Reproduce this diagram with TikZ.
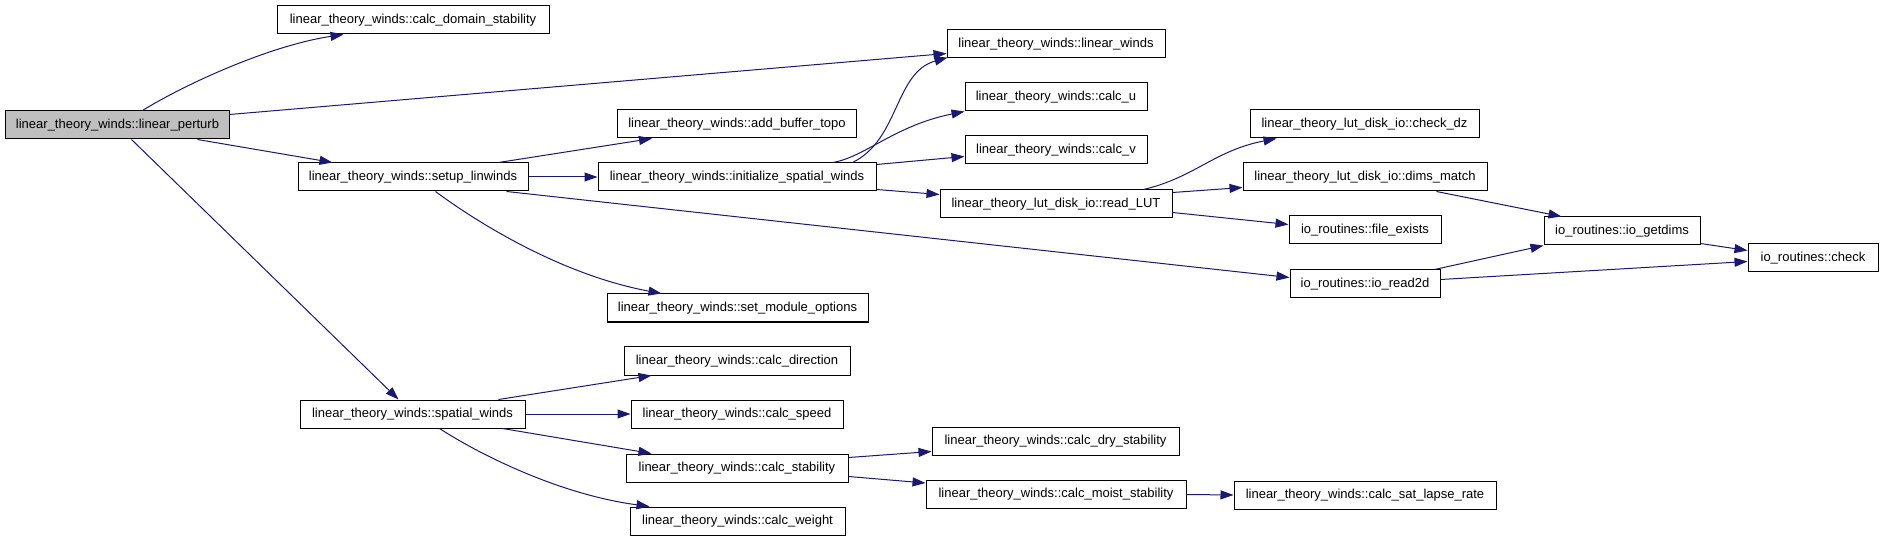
\documentclass[tikz,border=0pt]{standalone}
\usepackage{fontspec}
\setmainfont{Liberation Sans}
\usetikzlibrary{arrows.meta,calc}
\definecolor{edgeblue}{HTML}{191970}
\definecolor{rootfill}{HTML}{BFBFBF}
\begin{document}
\begin{tikzpicture}[x=1bp,y=-1bp,
  box/.style={draw=black,fill=white,line width=1bp,inner sep=0pt,minimum height=28bp,
    font=\fontsize{13bp}{15bp}\selectfont,anchor=center},
  rootbox/.style={box,fill=rootfill},
  edge/.style={draw=edgeblue,line width=1bp,-{Triangle[length=13bp,width=9bp]}}]
\useasboundingbox (0,0) rectangle (1883,541);
% nodes
\node[rootbox,minimum width=223bp] (lp) at (117.5,125) {linear\_theory\_winds::linear\_perturb};
\node[box,minimum width=272bp] (cds) at (413,20) {linear\_theory\_winds::calc\_domain\_stability};
\node[box,minimum width=218bp] (lw) at (1056,44) {linear\_theory\_winds::linear\_winds};
\node[box,minimum width=239bp] (abt) at (737,124) {linear\_theory\_winds::add\_buffer\_topo};
\node[box,minimum width=230bp] (sl) at (413,177) {linear\_theory\_winds::setup\_linwinds};
\node[box,minimum width=278bp] (isw) at (737,177) {linear\_theory\_winds::initialize\_spatial\_winds};
\node[box,minimum width=182bp] (cu) at (1056,97) {linear\_theory\_winds::calc\_u};
\node[box,minimum width=182bp] (cv) at (1056,150) {linear\_theory\_winds::calc\_v};
\node[box,minimum width=229bp] (cdz) at (1364.5,124) {linear\_theory\_lut\_disk\_io::check\_dz};
\node[box,minimum width=244bp] (dm) at (1365,177) {linear\_theory\_lut\_disk\_io::dims\_match};
\node[box,minimum width=232bp] (rl) at (1056,204) {linear\_theory\_lut\_disk\_io::read\_LUT};
\node[box,minimum width=152bp] (fe) at (1365,230) {io\_routines::file\_exists};
\node[box,minimum width=156bp] (gd) at (1622,231) {io\_routines::io\_getdims};
\node[box,minimum width=130bp] (ck) at (1813,258) {io\_routines::check};
\node[box,minimum width=150bp] (rd) at (1365,284) {io\_routines::io\_read2d};
\node[box,minimum width=261bp] (smo) at (737.5,308) {linear\_theory\_winds::set\_module\_options};
\node[box,minimum width=225bp] (sw) at (412.5,414) {linear\_theory\_winds::spatial\_winds};
\node[box,minimum width=226bp] (cdir) at (737,361) {linear\_theory\_winds::calc\_direction};
\node[box,minimum width=212bp] (cs) at (737,414) {linear\_theory\_winds::calc\_speed};
\node[box,minimum width=222bp] (cst) at (737,468) {linear\_theory\_winds::calc\_stability};
\node[box,minimum width=215bp] (cwt) at (737.5,521) {linear\_theory\_winds::calc\_weight};
\node[box,minimum width=247bp] (cdry) at (1055.5,441) {linear\_theory\_winds::calc\_dry\_stability};
\node[box,minimum width=260bp] (cmst) at (1056,494.5) {linear\_theory\_winds::calc\_moist\_stability};
\node[box,minimum width=262bp] (csl) at (1365,495) {linear\_theory\_winds::calc\_sat\_lapse\_rate};
% edges
\draw[edge] ($(lp.north west)+(137,0)$) .. controls ($(lp.north west)+(179,-26)$) and ($(cds.south west)+(-7,11)$) .. ($(cds.south west)+(67,0)$);
\draw[edge] ($(lp.north east)+(0,4)$) -- ($(lw.south west)+(0,-5)$);
\draw[edge] ($(lp.south west)+(192,0)$) -- ($(sl.north west)+(35,0)$);
\draw[edge] ($(lp.south west)+(126,0)$) -- ($(sw.north west)+(99,0)$);
\draw[edge] ($(sl.north west)+(201,0)$) -- ($(abt.south west)+(35,0)$);
\draw[edge] (sl.east) -- (isw.west);
\draw[edge] ($(sl.south west)+(138,0)$) .. controls ($(sl.south west)+(177,29)$) and ($(smo.north west)+(-47,-19)$) .. ($(smo.north west)+(55,0)$);
\draw[edge] ($(sl.south west)+(209,0)$) -- ($(rd.north west)+(0,8)$);
\draw[edge] ($(isw.north west)+(255,0)$) .. controls ($(isw.north west)+(302,-23)$) and ($(lw.south west)+(-52,14)$) .. ($(lw.south west)+(1,-1)$);
\draw[edge] ($(isw.north west)+(235,0)$) .. controls ($(isw.north west)+(267,-5)$) and ($(cu.south west)+(-70,14)$) .. ($(cu.south west)+(0,0)$);
\draw[edge] ($(isw.north east)+(0,2)$) -- ($(cv.north west)+(0,21)$);
\draw[edge] ($(isw.south east)+(0,-2)$) -- ($(rl.north west)+(0,5)$);
\draw[edge] ($(rl.north west)+(204,0)$) .. controls ($(rl.north west)+(255,-12)$) and ($(cdz.south west)+(-35,12)$) .. ($(cdz.south west)+(27,0)$);
\draw[edge] ($(rl.north east)+(0,3)$) -- ($(dm.north west)+(0,25)$);
\draw[edge] ($(rl.north east)+(0,23)$) -- ($(fe.north west)+(0,9)$);
\draw[edge] ($(dm.south west)+(194,0)$) -- ($(gd.north west)+(18,0)$);
\draw[edge] ($(rd.north west)+(145,0)$) -- (gd.south west);
\draw[edge] ($(rd.north east)+(0,10)$) -- ($(ck.north west)+(0,18)$);
\draw[edge] ($(gd.south east)+(0,-2)$) -- ($(ck.north west)+(0,7)$);
\draw[edge] ($(sw.north west)+(199,0)$) -- ($(cdir.south west)+(28,0)$);
\draw[edge] (sw.east) -- (cs.west);
\draw[edge] ($(sw.south west)+(203,0)$) -- ($(cst.north west)+(26,0)$);
\draw[edge] ($(sw.south west)+(140,0)$) .. controls ($(sw.south west)+(180,26)$) and ($(cwt.north west)+(-70,-12)$) .. ($(cwt.north west)+(20,0)$);
\draw[edge] ($(cst.north east)+(0,4)$) -- ($(cdry.north west)+(0,25)$);
\draw[edge] ($(cst.north east)+(0,23)$) -- ($(cmst.north west)+(0,3)$);
\draw[edge] (cmst.east) -- (csl.west);
\end{tikzpicture}
\end{document}
